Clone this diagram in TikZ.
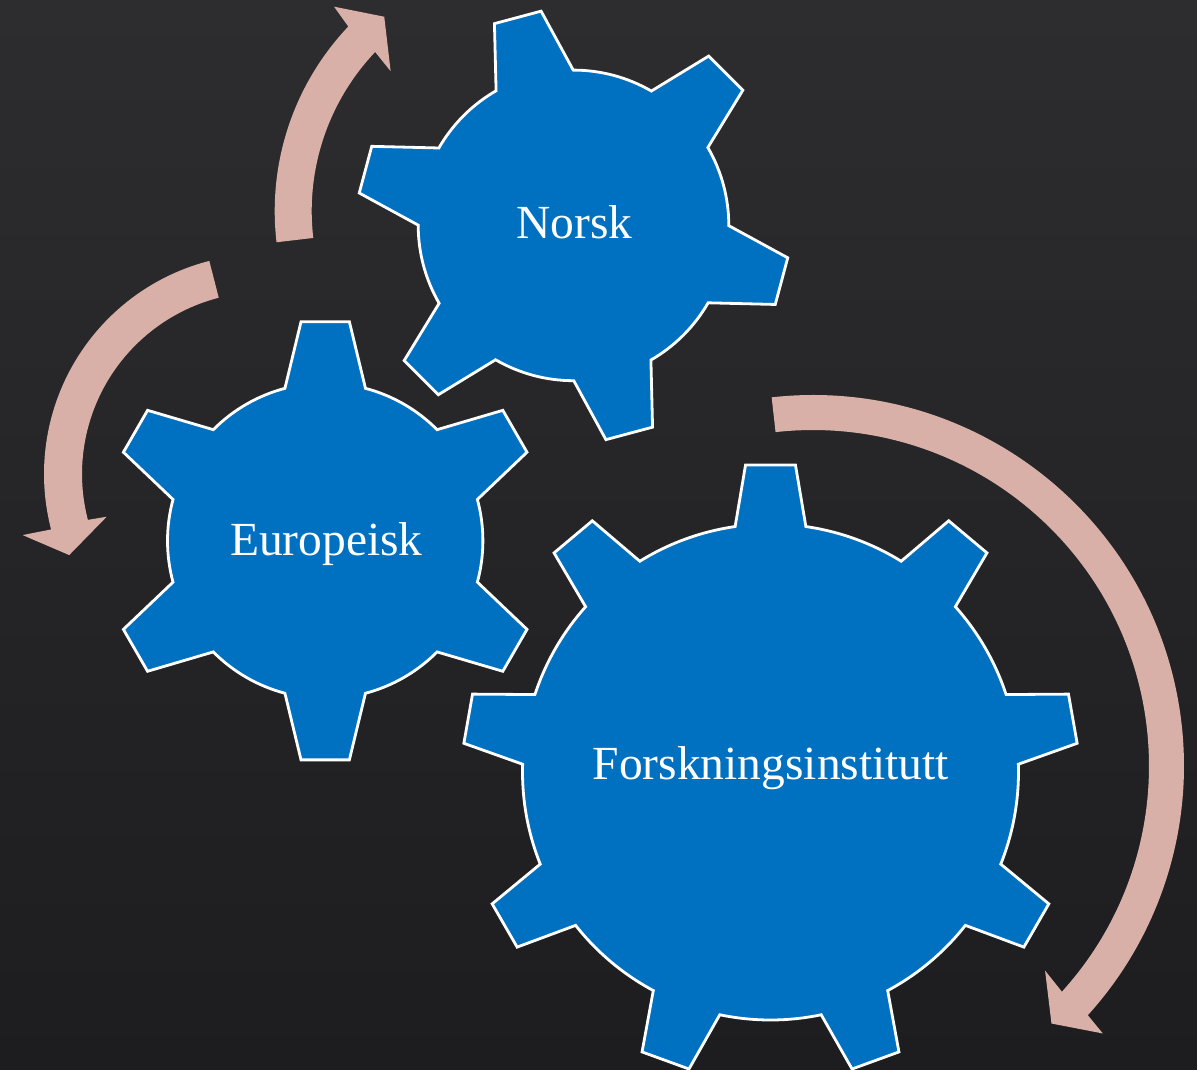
\documentclass[tikz,border=0pt]{standalone}
\usepackage{fontspec}
\setmainfont{Liberation Serif}
\definecolor{bgtop}{RGB}{45,45,47}
\definecolor{bgbot}{RGB}{29,29,31}
\definecolor{gearblue}{RGB}{0,112,192}
\definecolor{arrowpink}{RGB}{217,176,168}
\tikzset{
  gearline/.style={draw=white, fill=gearblue, line width=2.8pt, line join=miter},
  arrowband/.style={fill=arrowpink},
  geartext/.style={anchor=base, inner sep=0pt, text=white, font=\fontsize{47.5}{57}\selectfont}
}
\newcommand\mygear[8]{% cx, cy, Rb, Rt, ab, at, n, phase
  \begin{scope}[shift={(#1,#2)}]
    \pgfmathsetmacro\gst{360/#7}
    \pgfmathtruncatemacro\gn{#7-1}
    \draw[gearline] ({#8-#5}:#3)
      foreach \k in {0,...,\gn} {
        -- ({#8+\k*\gst-#5}:#3) -- ({#8+\k*\gst-#6}:#4) -- ({#8+\k*\gst+#6}:#4) -- ({#8+\k*\gst+#5}:#3)
        arc[start angle={#8+\k*\gst+#5}, end angle={#8+(\k+1)*\gst-#5}, radius=#3]
      } -- cycle;
  \end{scope}}
\begin{document}
\begin{tikzpicture}[x=1pt,y=-1pt]
\useasboundingbox (0,0) rectangle (1197,1070);
\shade[top color=bgtop, bottom color=bgbot] (0,0) rectangle (1197,1070);

% arrows
\begin{scope}[shift={(542.7,211)}]
\fill[arrowband] (173.3:268) arc[start angle=173.3, end angle=223.5, radius=268]
  -- (224.4:292) -- (230.8:250.7) -- (222.6:206.6) -- (223.5:231)
  arc[start angle=223.5, end angle=173.3, radius=231] -- cycle;
\end{scope}
\begin{scope}[shift={(264,474)}]
\fill[arrowband] (-104.4:220) arc[start angle=-104.4, end angle=-194.6, radius=220]
  -- (-194.2:249) -- (-202.6:211) -- (-195.2:163) -- (-194.6:182)
  arc[start angle=-194.6, end angle=-104.4, radius=182] -- cycle;
\end{scope}
\begin{scope}[shift={(813,766)}]
\fill[arrowband] (-96.4:371) arc[start angle=-96.4, end angle=42.2, radius=371]
  -- (42.7:394.4) -- (47.2:351) -- (41.4:309.4) -- (42.2:336)
  arc[start angle=42.2, end angle=-96.4, radius=336] -- cycle;
\end{scope}

% gears
\mygear{770.5}{772}{248}{308}{8.2}{4.65}{9}{-90}
\mygear{325.2}{540.8}{157.7}{220.4}{14.8}{6.3}{6}{-90}
\mygear{573.5}{225.4}{155.3}{216.7}{14.9}{6.4}{6}{-105}

% labels
\node[geartext] (forsk) at (770.9,779.5) {Forskningsinstitutt};
\node[geartext] (europeisk) at (326.3,555) {Europeisk};
\node[geartext] (norsk) at (574.5,238.3) {Norsk};
\end{tikzpicture}
\end{document}
